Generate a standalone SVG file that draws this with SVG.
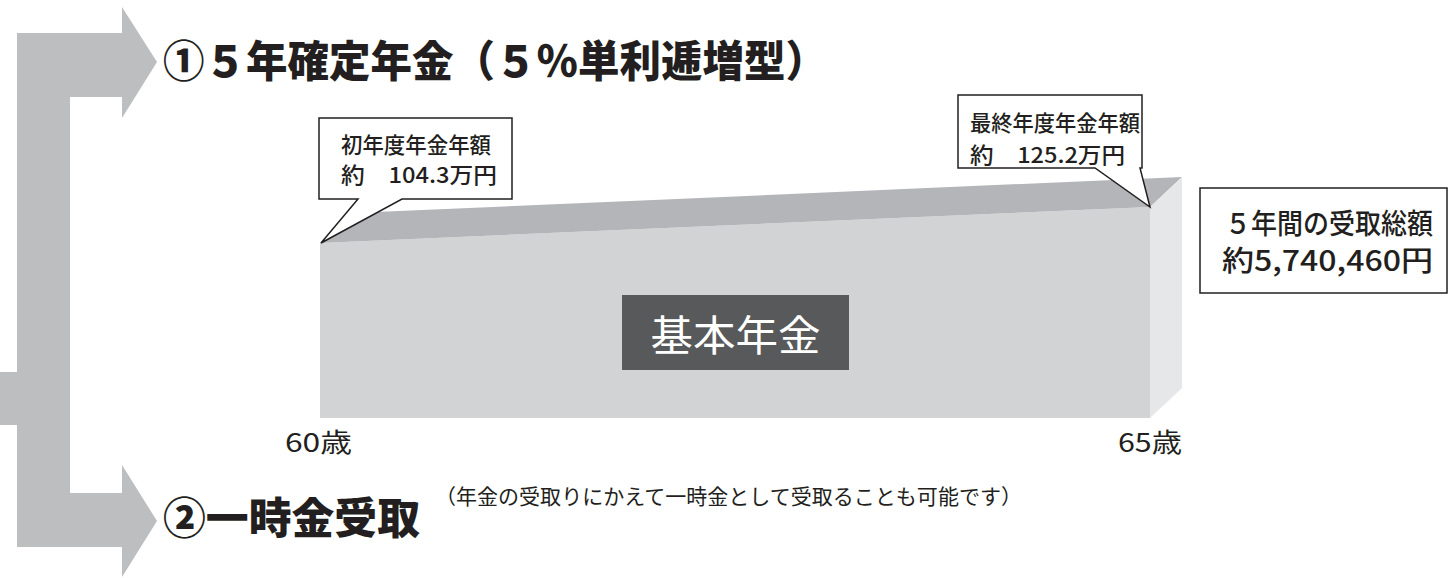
<svg xmlns="http://www.w3.org/2000/svg" width="1450" height="578" viewBox="0 0 1450 578">
<style>
.t{font-family:"Noto Sans CJK JP","Liberation Sans",sans-serif;fill:#231f20;font-weight:500}
.h{font-weight:900;font-size:43px}
.s{font-size:22px}
.r{font-size:21px;font-weight:400}
.m{font-size:28px}
.a{font-size:26px;font-weight:400}
.b{fill:#fff;stroke:#231f20;stroke-width:1.5}
</style>
<rect width="1450" height="578" fill="#fff"/>
<g id="connectors">
<path d="M17,33 H122 V7 L157,62 L122,118 V97 H70 V493 H122 V465 L157,521 L122,577 V547 H17 V425 H0 V372 H17 Z" fill="#bcbec0"/>
</g>
<g id="title1"><text class="t h" x="163" y="77" textLength="664" lengthAdjust="spacingAndGlyphs">①５年確定年金（５％単利逓増型）</text></g>
<g id="title2"><text class="t h" x="163" y="534" textLength="257" lengthAdjust="spacingAndGlyphs">②一時金受取</text>
<text class="t r" x="435" y="504" textLength="587" lengthAdjust="spacingAndGlyphs">（年金の受取りにかえて一時金として受取ることも可能です）</text></g>
<g id="block">
<polygon points="320,243 1150,207 1150,418 320,418" fill="#d1d3d4"/>
<polygon points="320,243 352,213 1182,177 1150,207" fill="#b3b5b8"/>
<polygon points="1150,207 1182,177 1182,388 1150,418" fill="#e6e7e8"/>
<rect x="622" y="295" width="227" height="75" fill="#58595b"/>
<text class="t" x="735.5" y="351" font-size="42" text-anchor="middle" style="fill:#fff;font-weight:400" textLength="170" lengthAdjust="spacingAndGlyphs">基本年金</text>
</g>
<g id="bubble1">
<path class="b" d="M319,118 H512 V199 H402 L321,243 L358,199 H319 Z"/>
<text class="t s" x="341" y="153" textLength="150" lengthAdjust="spacingAndGlyphs">初年度年金年額</text>
<text class="t s" x="341" y="183" textLength="156" lengthAdjust="spacingAndGlyphs">約　104.3万円</text>
</g>
<g id="bubble2">
<path class="b" d="M958,95 H1142 V168 H1140 L1150,207 L1095,168 H958 Z"/>
<text class="t s" x="970" y="131" textLength="170" lengthAdjust="spacingAndGlyphs">最終年度年金年額</text>
<text class="t s" x="970" y="163" textLength="155" lengthAdjust="spacingAndGlyphs">約　125.2万円</text>
</g>
<g id="total">
<rect class="b" x="1200" y="188" width="247" height="105"/>
<text class="t m" x="1225" y="234" textLength="208" lengthAdjust="spacingAndGlyphs">５年間の受取総額</text>
<text class="t m" x="1222" y="271" textLength="211" lengthAdjust="spacingAndGlyphs">約5,740,460円</text>
</g>
<g id="age60"><text class="t a" x="285" y="452" textLength="67" lengthAdjust="spacingAndGlyphs">60歳</text></g>
<g id="age65"><text class="t a" x="1118" y="452" textLength="64" lengthAdjust="spacingAndGlyphs">65歳</text></g>
</svg>
